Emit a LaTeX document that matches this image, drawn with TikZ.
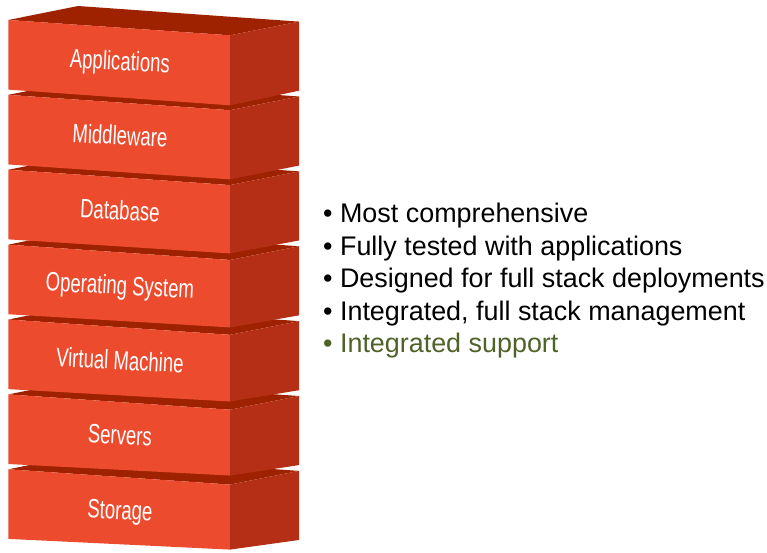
\documentclass[tikz,border=0pt]{standalone}
\usepackage{fontspec}
\setmainfont{Liberation Sans}
\definecolor{brickfront}{HTML}{EC4B2E}
\definecolor{brickside}{HTML}{B52F16}
\definecolor{bricktop}{HTML}{9E2200}
\definecolor{supportgreen}{HTML}{4F6228}
\tikzset{
  frontface/.style={fill=brickfront},
  sideface/.style={fill=brickside},
  topface/.style={fill=bricktop},
  layerlabel/.style={text=white, inner sep=0pt, anchor=base,
    font=\fontsize{26.5}{30}\selectfont, rotate=-3, xscale=0.7},
  bulletline/.style={text=black, inner sep=0pt, anchor=base west,
    font=\fontsize{26.9}{32}\selectfont},
}
\begin{document}
\begin{tikzpicture}[x=1pt,y=-1pt]
\useasboundingbox (0,0) rectangle (767,552);

% stack of layers, drawn from the bottom up so each block hides the top of the one below
\foreach \k/\lbl in {6/Storage, 5/Servers, 4/Virtual Machine, 3/Operating System,
                     2/Database, 1/Middleware, 0/Applications}{
  \pgfmathsetmacro{\yo}{20 + 74.88*\k}
  \pgfmathsetmacro{\t}{\k/6}
  \pgfmathsetmacro{\frh}{70 - 5*\t}
  \coordinate (fl\k)  at (8.3, \yo);
  \coordinate (bl\k)  at (78, \yo-14);
  \coordinate (frt\k) at (230, \yo+15.3);
  \coordinate (srt\k) at (299, \yo+1.6);
  \coordinate (flb\k) at (8.3, \yo+69.6);
  \coordinate (frb\k) at (230, \yo+15.3+\frh);
  \coordinate (srb\k) at (299, \yo+70.7);
  \fill[topface]   (fl\k) -- (bl\k) -- (srt\k) -- (frt\k) -- cycle;
  \fill[frontface] (fl\k) -- (frt\k) -- (frb\k) -- (flb\k) -- cycle;
  \fill[sideface]  (frt\k) -- (srt\k) -- (srb\k) -- (frb\k) -- cycle;
  \node[layerlabel] (L\k) at (119.5, \yo+50) {\lbl};
}

% feature list
\node[bulletline] (item1) at (323, 222.7) {• Most comprehensive};
\node[bulletline] (item2) at (323, 255.2) {• Fully tested with applications};
\node[bulletline] (item3) at (323, 287.7) {• Designed for full stack deployments};
\node[bulletline] (item4) at (323, 320.2) {• Integrated, full stack management};
\node[bulletline, text=supportgreen] (item5) at (323, 352.7) {• Integrated support};
\end{tikzpicture}
\end{document}
